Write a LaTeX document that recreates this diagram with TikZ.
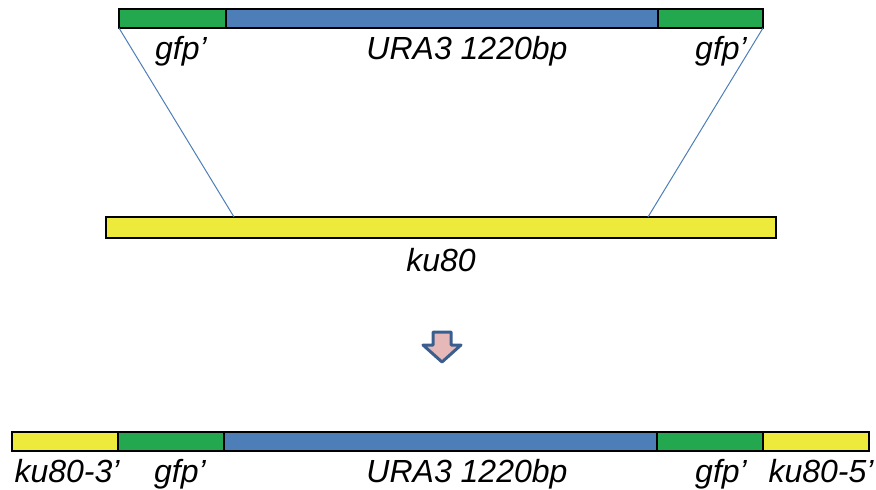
\documentclass[tikz,border=0pt]{standalone}
\usepackage{fontspec}
\setmainfont{Liberation Sans}
\begin{document}
\begin{tikzpicture}[x=1pt,y=-1pt,
  seg/.style={draw=black,line width=1.2pt},
  gfpseg/.style={seg,fill=gfpgreen},
  uraseg/.style={seg,fill=urablue},
  kuseg/.style={seg,fill=kuyellow},
  lbl/.style={font=\fontsize{32}{32}\itshape\selectfont,inner sep=0pt,anchor=base},
  guide/.style={draw=urablue,line width=1pt}]
\definecolor{gfpgreen}{HTML}{23A84F}
\definecolor{urablue}{HTML}{4E7EB8}
\definecolor{kuyellow}{HTML}{EEEA3C}
\definecolor{arrowfill}{HTML}{E6B9B8}
\definecolor{arrowline}{HTML}{3A5F8E}
\useasboundingbox (0,0) rectangle (876,490);

% cassette: gfp' - URA3 - gfp'
\draw[gfpseg] (119,9) rectangle (226,28);
\draw[uraseg] (226,9) rectangle (658,28);
\draw[gfpseg] (658,9) rectangle (763,28);
\coordinate (tl) at (119,28);
\coordinate (tr) at (763,28);
\node[lbl] (g1) at (181,59) {gfp’};
\node[lbl] (ura) at (467,59) {URA3 1220bp};
\node[lbl] (g2) at (721,59) {gfp’};

% ku80 locus
\draw[kuseg] (106,217) rectangle (776,238);
\coordinate (kl) at (234,217);
\coordinate (kr) at (648,217);
\node[lbl] (ku) at (441,271) {ku80};

% homologous recombination guides
\draw[guide] (tl) -- (kl);
\draw[guide] (tr) -- (kr);

% block arrow
\draw[fill=arrowfill,draw=arrowline,line width=3pt,line join=round]
  (433,332) -- (451,332) -- (451,345) -- (461,345) -- (442,362)
  -- (423,345) -- (433,345) -- cycle;

% recombined locus
\draw[kuseg] (12,432) rectangle (118,451);
\draw[gfpseg] (118,432) rectangle (224,451);
\draw[uraseg] (224,432) rectangle (657,451);
\draw[gfpseg] (657,432) rectangle (763,451);
\draw[kuseg] (763,432) rectangle (869,451);
\node[lbl] (k3) at (67,482) {ku80-3’};
\node[lbl] (g3) at (180,482) {gfp’};
\node[lbl] (ura2) at (467,482) {URA3 1220bp};
\node[lbl] (g4) at (721,482) {gfp’};
\node[lbl] (k5) at (821,482) {ku80-5’};
\end{tikzpicture}
\end{document}
